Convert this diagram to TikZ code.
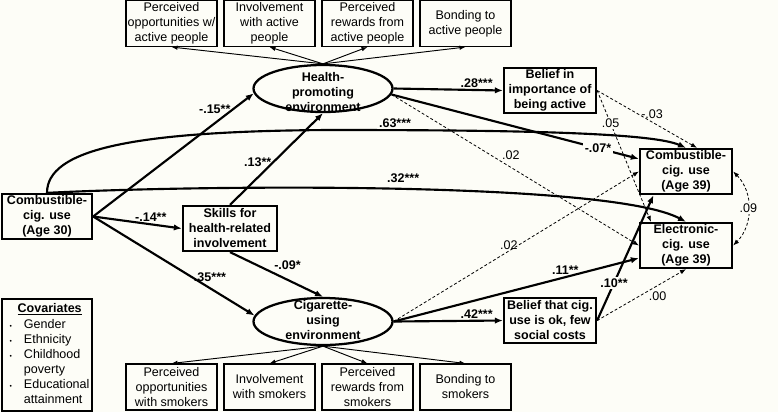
\documentclass[tikz,border=0pt]{standalone}
\usepackage{fontspec}
\setmainfont{Liberation Sans}
\usepackage{xcolor}
\usetikzlibrary{positioning,shapes,calc}
\usetikzlibrary{arrows.meta}
\definecolor{bgcol}{RGB}{253,253,247}
\newcommand{\diagfont}{\fontsize{9.4}{11.25}\selectfont}
\tikzset{ind node/.style={rectangle,draw,line width=0.8pt,minimum width=68.25pt,minimum height=34.5pt,inner sep=0pt,align=center,font=\diagfont}}
\tikzset{key node/.style={rectangle,draw,line width=1.7pt,minimum width=69pt,minimum height=33.75pt,inner sep=0pt,align=center,font=\diagfont\bfseries}}
\tikzset{latent node/.style={ellipse,draw,line width=1.7pt,minimum width=104.25pt,minimum height=35.25pt,inner sep=0pt}}
\tikzset{latent text/.style={align=center,inner sep=0pt,font=\diagfont\bfseries}}
\tikzset{load/.style={-{Latex[length=4.5pt,width=3.4pt]},line width=0.7pt}}
\tikzset{sig/.style={-{Latex[length=6pt,width=4.8pt]},line width=1.6pt}}
\tikzset{ns/.style={-{Latex[length=4.5pt,width=3.4pt]},line width=0.6pt,dash pattern=on 2.2pt off 1.6pt}}
\tikzset{sig label/.style={font=\diagfont\bfseries,inner sep=1pt}}
\tikzset{ns label/.style={font=\diagfont,inner sep=1pt}}

\begin{document}
\begin{tikzpicture}[x=0.75pt, y=-0.75pt, on grid]
      \fill[bgcol] (0,0) rectangle (778,412);
      \useasboundingbox (0,0) rectangle (778,412);
      % indicators, top
      \node[ind node] (t1) at (171.5,23.5) {Perceived\\opportunities w/\\active people};
      \node[ind node] (t2) [right=73.5pt of t1] {Involvement\\with active\\people};
      \node[ind node] (t3) [right=73.5pt of t2] {Perceived\\rewards from\\active people};
      \node[ind node] (t4) [right=73.5pt of t3] {Bonding to\\active people};
      % indicators, bottom
      \node[ind node] (b1) at (171.5,387) {Perceived\\opportunities\\with smokers};
      \node[ind node] (b2) [right=73.5pt of b1] {Involvement\\with smokers};
      \node[ind node] (b3) [right=73.5pt of b2] {Perceived\\rewards from\\smokers};
      \node[ind node] (b4) [right=73.5pt of b3] {Bonding to\\smokers};
      % latent
      \node[latent node] (hp) at (323,88.5) {};
      \node[latent text] (hp-t) at (323,92) {Health-\\promoting\\environment};
      \node[latent node] (cu) at (323,321.5) {};
      \node[latent text] (cu-t) at (323,320) {Cigarette-\\using\\environment};
      % observed
      \node[key node, minimum width=67.5pt] (c30) at (47,216.5) {Combustible-\\cig. use\\(Age 30)};
      \node[key node, minimum width=70.5pt] (skills) at (230,228.5) {Skills for\\health-related\\involvement};
      \node[key node] (bimp) at (550,90.5) {Belief in\\importance of\\being active};
      \node[key node] (bcig) at (550,320.5) {Belief that cig.\\use is ok, few\\social costs};
      \node[key node] (c39) at (686,171.5) {Combustible-\\cig. use\\(Age 39)};
      \node[key node] (e39) at (686,245.5) {Electronic-\\cig. use\\(Age 39)};
      \node[key node, minimum width=67.5pt, minimum height=84pt] (cov) at (47,355) {%
        \hspace{4pt}\mdseries\begin{tabular}{@{}c@{\hspace{9pt}}l@{}}
        \multicolumn{2}{c}{\textbf{\underline{Covariates}}}\\[1pt]
        {\tiny\textbullet} & Gender\\
        {\tiny\textbullet} & Ethnicity\\
        {\tiny\textbullet} & Childhood\\
         & poverty\\
        {\tiny\textbullet} & Educational\\
         & attainment
        \end{tabular}};
      % loadings
      \draw[load] (hp.north) -- (t1.south);
      \draw[load] (hp.north) -- (t2.south);
      \draw[load] (hp.north) -- (t3.south);
      \draw[load] (hp.north) -- (t4.south);
      \draw[load] (cu.south) -- (b1.north);
      \draw[load] (cu.south) -- (b2.north);
      \draw[load] (cu.south) -- (b3.north);
      \draw[load] (cu.south) -- (b4.north);
      % paths
      \draw[sig] (c30.east) -- (hp.184) node[sig label, pos=0.87, left] {-.15**};
      \draw[sig] (c30.east) -- (skills.west) node[sig label, pos=0.65, above] {-.14**};
      \draw[sig] (c30.east) -- (cu.175) node[sig label, pos=0.61, right] {.35***};
      \draw[sig] (skills.north) -- (hp.south) node[sig label, pos=0.47, left] {.13**};
      \draw[sig] (skills.south) -- (cu.north) node[sig label, pos=0.45, above right] {-.09*};
      \draw[sig] (c30.north) .. controls (47,150) and (130,131) .. (330,130)
        .. controls (500,130) and (650,132) .. (c39.north) node[sig label, pos=0.13, above] {.63***};
      \draw[sig] (c30.north) .. controls (200,185) and (610,181) .. (e39.north) node[sig label, pos=0.51, above=3pt] {.32***};
      \draw[sig] (hp.east) -- (bimp.west) node[sig label, pos=0.76, above] {.28***};
      \draw[sig] (hp.355) -- (c39.165) node[sig label, pos=0.835, fill=bgcol] {-.07*};
      \draw[ns] (hp.355) -- (e39.west) node[ns label, pos=0.44, above right] {.02};
      \draw[ns] (bimp.east) -- (c39.65) node[ns label, pos=0.55, above=1pt] {-.03};
      \draw[ns] (bimp.east) -- (e39.146) node[ns label, pos=0.25, fill=bgcol] {.05};
      \draw[ns] (cu.east) -- (c39.west) node[ns label, pos=0.47, above] {.02};
      \draw[sig] (cu.east) -- (e39.195) node[sig label, pos=0.7, above] {.11**};
      \draw[sig] (cu.east) -- (bcig.west) node[sig label, pos=0.76, above] {.42***};
      \draw[sig] (bcig.east) -- (c39.216) node[sig label, pos=0.3, fill=bgcol] {.10**};
      \draw[ns] (bcig.east) -- (e39.south) node[ns label, pos=0.68, below=3pt] {.00};
      \draw[ns, {Latex[length=4.5pt,width=3.4pt]}-{Latex[length=4.5pt,width=3.4pt]}] (c39.east) to[bend left=45] node[ns label, fill=bgcol] {.09} (e39.east);
\end{tikzpicture}
\end{document}
